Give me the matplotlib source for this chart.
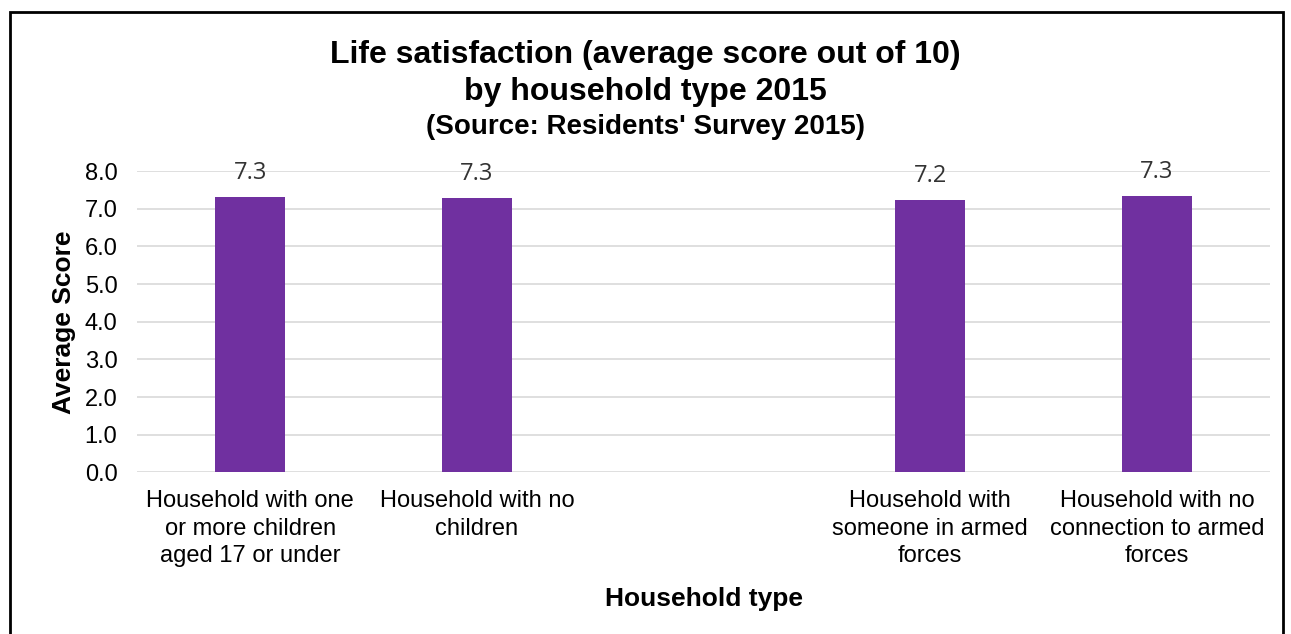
import matplotlib
matplotlib.use("Agg")
import matplotlib.pyplot as plt
from matplotlib.patches import Rectangle

plt.rcParams['font.family'] = ['Liberation Sans', 'DejaVu Sans']

categories = ["Household with one\nor more children\naged 17 or under",
              "Household with no\nchildren",
              "",
              "Household with\nsomeone in armed\nforces",
              "Household with no\nconnection to armed\nforces"]
scores = [7.31, 7.30, None, 7.23, 7.34]
yticks = [0, 1, 2, 3, 4, 5, 6, 7, 8]

fig = plt.figure(figsize=(12.91, 6.34), dpi=100)
ax = fig.add_axes([0.106, 0.255, 0.878, 0.475])

x = list(range(len(categories)))
for i, v in zip(x, scores):
    if v is None:
        continue
    ax.bar(i, v, width=0.31, color="#7030a0", zorder=3)
    ax.text(i, v + 0.63, f"{v:.1f}", ha="center", va="center",
            fontsize=17, color="#333333", family=["Open Sans", "DejaVu Sans"])

ax.set_xlim(-0.5, len(categories) - 0.5)
ax.set_ylim(0, 8)
ax.set_yticks(yticks)
ax.set_yticklabels([f"{t:.1f}" for t in yticks], fontsize=17)
ax.set_xticks(x)
ax.set_xticklabels(categories, fontsize=17, linespacing=1.32)
ax.tick_params(length=0)
ax.tick_params(axis="y", pad=14)
ax.tick_params(axis="x", pad=13)
ax.grid(axis="y", color="#d9d9d9", linewidth=1.2, zorder=0)
for s in ax.spines.values():
    s.set_visible(False)

ax.set_ylabel("Average Score", fontsize=19, fontweight="bold", labelpad=6)
ax.set_xlabel("Household type", fontsize=19, fontweight="bold", labelpad=14)

fig.text(0.5, 0.913, "Life satisfaction (average score out of 10)",
         ha="center", va="center", fontsize=23, fontweight="bold")
fig.text(0.5, 0.855, "by household type 2015",
         ha="center", va="center", fontsize=23, fontweight="bold")
fig.text(0.5, 0.800, "(Source: Residents' Survey 2015)",
         ha="center", va="center", fontsize=20, fontweight="bold")

# outer frame, bottom edge runs past the picture
fig.patches.append(Rectangle((0.008, -0.05), 0.986, 1.031, transform=fig.transFigure,
                             fill=False, edgecolor="black", linewidth=2))

fig.savefig("out.png", dpi=100)
